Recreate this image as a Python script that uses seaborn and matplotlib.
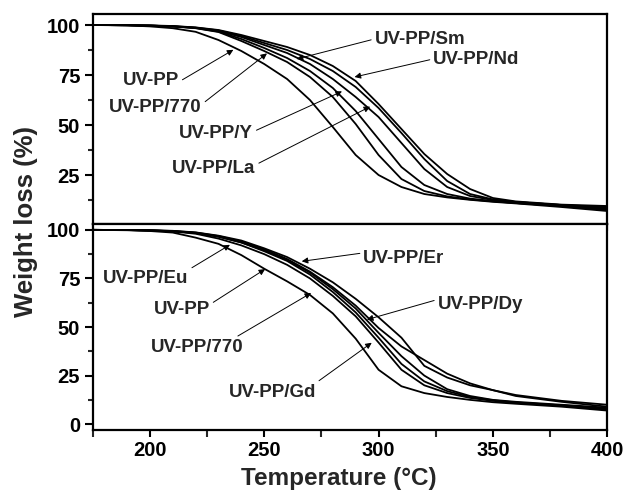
import matplotlib
matplotlib.use("Agg")
import matplotlib.pyplot as plt
from matplotlib.ticker import MultipleLocator, FixedLocator
import seaborn as sns
import pandas as pd

sns.set_style("ticks")
plt.rcParams['font.family'] = ['Liberation Sans', 'DejaVu Sans']
plt.rcParams['font.weight'] = 'bold'

temperature = [175, 190, 200, 210, 220, 230, 240, 250, 260, 270, 280, 290,
               300, 310, 320, 330, 340, 350, 360, 380, 400]

# Top panel (weight %)
top_uvpp = [100, 99.8, 99.3, 98.4, 96.6, 92.5, 87, 80.5, 73, 62.5, 49, 35,
            25, 19, 15.5, 13.8, 12.6, 11.6, 10.8, 9.0, 7.0]
top_770 = [100, 99.9, 99.7, 99.3, 98.4, 96.5, 92, 87, 81.5, 74, 64, 50.5,
           35, 23, 17, 14.3, 12.8, 11.8, 11, 9.5, 7.5]
top_y = [100, 99.9, 99.7, 99.3, 98.5, 96.7, 93, 88.5, 83.5, 77, 68.5, 57,
         43, 29, 20, 15.5, 13.2, 12, 11, 9.5, 8]
top_la = [100, 99.9, 99.7, 99.3, 98.6, 97, 94, 90, 86, 80.5, 73, 64,
          54, 41, 28, 19, 14.5, 12.5, 11.5, 10, 8.5]
top_sm = [100, 99.9, 99.7, 99.4, 98.7, 97.3, 94.5, 91, 87.5, 83, 77, 69,
          58.5, 46, 33, 22, 15.5, 12.8, 11.5, 10, 9]
top_nd = [100, 99.9, 99.8, 99.5, 98.8, 97.5, 95, 92, 89, 85, 79.5, 72,
          60.5, 48, 35.5, 25.5, 18, 13.5, 11.8, 10.2, 9.5]

# Bottom panel (weight %)
bot_uvpp = [100, 99.8, 99.4, 98.6, 96, 92.8, 87, 80, 73.5, 66.5, 57, 44,
            28, 19.5, 16, 14, 12.5, 11.3, 10.5, 9, 7]
bot_770 = [100, 99.9, 99.7, 99.2, 98, 95.5, 92, 87.5, 82, 75, 66, 55.5,
           42, 28, 20, 16, 13.5, 12, 11, 9.5, 7.5]
bot_eu = [100, 99.9, 99.7, 99.3, 98.4, 96.5, 93.5, 89, 84, 77, 68, 57.5,
          44.5, 31, 22, 17, 14, 12.3, 11.2, 9.7, 8]
bot_gd = [100, 99.9, 99.7, 99.3, 98.4, 96.5, 93.5, 89.5, 84.5, 78, 69.5, 59.5,
          47, 35, 25, 18, 14.5, 12.5, 11.5, 10, 8.5]
bot_er = [100, 99.9, 99.8, 99.4, 98.6, 96.8, 94, 90, 85, 78.5, 70.5, 61,
          49.5, 40, 33, 26, 21, 17.5, 14.5, 11.5, 9]
bot_dy = [100, 99.9, 99.8, 99.5, 98.7, 97, 94.5, 90.5, 86, 80, 73, 64.5,
          55, 44.5, 30, 24, 20, 17.5, 15, 12, 10]

top_series = {"UV-PP": top_uvpp, "UV-PP/770": top_770, "UV-PP/Y": top_y,
              "UV-PP/La": top_la, "UV-PP/Sm": top_sm, "UV-PP/Nd": top_nd}
bot_series = {"UV-PP": bot_uvpp, "UV-PP/770": bot_770, "UV-PP/Eu": bot_eu,
              "UV-PP/Gd": bot_gd, "UV-PP/Er": bot_er, "UV-PP/Dy": bot_dy}

# label text position (T, W), arrow tip (T, W), relpos
top_labels = [
    ("UV-PP", (200.5, 72.5), (236.5, 87.6), (1.0, 0.4)),
    ("UV-PP/770", (202.5, 58.7), (251.2, 85.8), (1.0, 0.7)),
    ("UV-PP/Y", (229, 45.8), (284, 66.8), (1.0, 0.6)),
    ("UV-PP/La", (228, 28.4), (296.3, 59.2), (1.0, 0.7)),
    ("UV-PP/Sm", (318, 93), (264.2, 83.0), (0.0, 0.5)),
    ("UV-PP/Nd", (342.7, 83), (289.5, 74.0), (0.0, 0.5)),
]
bot_labels = [
    ("UV-PP/Eu", (198.3, 75.2), (235, 92.3), (0.97, 0.9)),
    ("UV-PP", (214, 59), (250.4, 79.8), (1.0, 0.8)),
    ("UV-PP/770", (220.6, 39.3), (270.5, 67.5), (0.85, 0.9)),
    ("UV-PP/Gd", (253.5, 16.3), (297, 41.9), (0.97, 0.95)),
    ("UV-PP/Er", (311, 85.5), (266.4, 83.8), (0.0, 0.8)),
    ("UV-PP/Dy", (344.4, 61.5), (294.9, 53.8), (0.0, 0.8)),
]


def to_frame(series):
    rows = []
    for name, vals in series.items():
        for t, w in zip(temperature, vals):
            rows.append({"T": t, "W": w, "sample": name})
    return pd.DataFrame(rows)


fig = plt.figure(figsize=(6.28, 4.93), dpi=100)
ax1 = fig.add_axes([0.1476, 0.5456, 0.8194, 0.4260])
ax2 = fig.add_axes([0.1476, 0.1278, 0.8194, 0.4178])

for ax, series, labels in ((ax1, top_series, top_labels), (ax2, bot_series, bot_labels)):
    df = to_frame(series)
    sns.lineplot(data=df, x="T", y="W", hue="sample", palette=["black"] * len(series),
                 estimator=None, legend=False, linewidth=1.3, ax=ax)
    for text, pos, tip, rel in labels:
        ax.annotate(text, xy=tip, xytext=pos, ha="center", va="center",
                    fontsize=13.5, fontweight="bold",
                    arrowprops=dict(arrowstyle="-|>", color="black", lw=0.7,
                                    mutation_scale=9, shrinkA=0, shrinkB=0,
                                    relpos=rel))
    ax.set_xlim(175, 400)
    ax.xaxis.set_major_locator(MultipleLocator(50))
    ax.xaxis.set_minor_locator(MultipleLocator(25))
    ax.yaxis.set_minor_locator(MultipleLocator(12.5))
    ax.set_xlabel("")
    ax.set_ylabel("")
    for sp in ax.spines.values():
        sp.set_linewidth(1.6)
        sp.set_color("black")
    ax.tick_params(axis="both", which="major", direction="out", length=6, width=1.5,
                   labelsize=14.5, colors="black", pad=3)
    ax.tick_params(axis="both", which="minor", direction="out", length=3.5, width=1.5)
    ax.tick_params(axis="x", which="minor", length=5)
    ax.tick_params(axis="x", which="major", length=5)

ax1.set_ylim(0.5, 105.5)
ax1.yaxis.set_major_locator(FixedLocator([25, 50, 75, 100]))
ax1.tick_params(axis="x", labelbottom=False)
ax2.set_ylim(-3, 103)
ax2.yaxis.set_major_locator(FixedLocator([0, 25, 50, 75, 100]))
ax2.yaxis.set_minor_locator(FixedLocator([12.5, 37.5, 62.5, 87.5]))
for lab in ax1.get_yticklabels() + ax2.get_yticklabels() + ax2.get_xticklabels():
    lab.set_fontweight("bold")

fig.text(0.54, 0.03, "Temperature (\u00b0C)", ha="center", va="center",
         fontsize=17.5, fontweight="bold")
fig.text(0.041, 0.55, "Weight loss (%)", ha="center", va="center",
         rotation=90, fontsize=18.5, fontweight="bold")

fig.savefig("out.png", dpi=100, facecolor="white")
